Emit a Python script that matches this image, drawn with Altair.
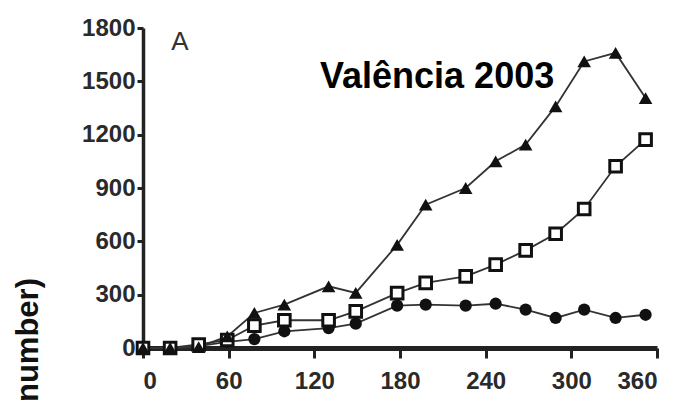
import altair as alt
import pandas as pd

days = [0, 19, 39, 59, 78, 99, 130, 149, 178, 198, 226, 247, 268, 289, 309, 331, 352]
triangles = [0, 0, 5, 65, 197, 244, 347, 310, 580, 806, 900, 1050, 1144, 1359, 1612, 1660, 1406]
squares = [0, 0, 20, 45, 126, 156, 156, 206, 309, 366, 403, 469, 549, 643, 782, 1022, 1172]
circles = [0, 0, 10, 35, 50, 94, 112, 137, 238, 244, 238, 249, 216, 169, 216, 169, 187]

x_ticks = [0, 60, 120, 180, 240, 300, 360]
y_ticks = [0, 300, 600, 900, 1200, 1500, 1800]
title_text = "Valência 2003"
panel_text = "A"
ylabel_text = "number)"

rows = []
for name, vals in [("tri", triangles), ("sq", squares), ("circ", circles)]:
    for d, v in zip(days, vals):
        rows.append({"day": d, "value": v, "series": name})
df = pd.DataFrame(rows)

LABEL_FONT = "Liberation Sans, Arial"

x = alt.X("day:Q", scale=alt.Scale(domain=[0, 360], nice=False),
          axis=alt.Axis(values=x_ticks, title=None, grid=False, format="d"))
y = alt.Y("value:Q", scale=alt.Scale(domain=[0, 1800], nice=False),
          axis=alt.Axis(values=y_ticks, title=None, grid=False, format="d"))

base = alt.Chart(df)
lines = base.mark_line(color="#333", strokeWidth=1.8).encode(x=x, y=y, detail="series:N")

tri = base.transform_filter(alt.datum.series == "tri").mark_point(
    shape="triangle-up", filled=True, color="#111", size=185, opacity=1).encode(x=x, y=y)
sq = base.transform_filter(alt.datum.series == "sq").mark_point(
    shape="square", filled=False, fill="white", stroke="#111", strokeWidth=3,
    size=135, opacity=1, fillOpacity=1).encode(x=x, y=y)
circ = base.transform_filter(alt.datum.series == "circ").mark_point(
    shape="circle", filled=True, color="#111", size=150, opacity=1).encode(x=x, y=y)

ann = pd.DataFrame({"t": [title_text]})
title = alt.Chart(ann).mark_text(
    font="Liberation Sans", fontWeight="bold", fontSize=36, align="left",
    baseline="alphabetic", color="#000").encode(
    text="t:N", x=alt.value(177), y=alt.value(60))

pan = alt.Chart(pd.DataFrame({"t": [panel_text]})).mark_text(
    font="Liberation Sans", fontSize=26, align="center", baseline="alphabetic",
    color="#333").encode(text="t:N", x=alt.value(37), y=alt.value(22))

ylab = alt.Chart(pd.DataFrame({"t": [ylabel_text]})).mark_text(
    font="Liberation Sans", fontWeight="bold", fontSize=31, align="right",
    baseline="middle", angle=270, color="#111").encode(
    text="t:N", x=alt.value(-114), y=alt.value(250))

chart = alt.layer(lines, circ, sq, tri, title, pan, ylab).properties(
    width=514, height=320,
    autosize=alt.AutoSizeParams(type="none"),
    padding={"left": 143, "top": 28, "right": 26, "bottom": 56},
).configure_view(stroke=None).configure_axis(
    domainColor="#222", tickColor="#222", tickWidth=3,
    labelFont=LABEL_FONT, labelFontSize=24, labelColor="#2a2a2a",
    labelFontWeight="bold",
).configure_axisX(labelPadding=11, domainWidth=5, tickSize=10).configure_axisY(
    labelPadding=2, domainWidth=3.5, tickSize=6)

chart.save("out.html", embed_options={"renderer": "svg", "actions": False})
